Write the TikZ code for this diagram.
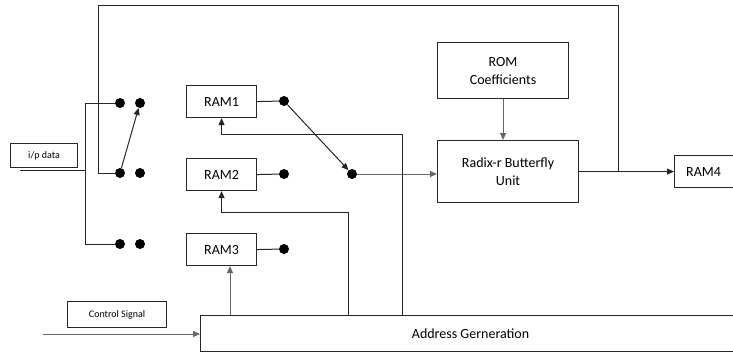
\documentclass[tikz,border=0pt]{standalone}
\usepackage{fontspec}
\setmainfont{Carlito}
\usetikzlibrary{arrows.meta}
\begin{document}
\begin{tikzpicture}[x=1pt,y=-1pt,
  blk/.style={draw=black!85, line width=1.1pt, inner sep=0pt, anchor=north west,
    align=center, font=\fontsize{14}{18}\selectfont},
  small/.style={font=\fontsize{10}{12}\selectfont},
  dot/.style={circle, fill=black, inner sep=0pt, minimum size=10pt},
  wire/.style={draw=black!85, line width=1pt},
  light/.style={draw=black!60},
  arr/.style={wire, -{Triangle[length=7pt,width=6pt]}},
  ]
\useasboundingbox (0,0) rectangle (733,353);
\clip (0,0) rectangle (733,353);

% blocks
\node[blk, small, minimum width=67pt, minimum height=24pt] (ipd) at (10,143) {i/p data};
\node[blk, small, minimum width=99pt, minimum height=26pt] (ctrl) at (67,301) {Control Signal};
\node[blk, minimum width=70pt, minimum height=32pt] (ram1) at (186,85) {RAM1};
\node[blk, minimum width=70pt, minimum height=32pt] (ram2) at (186,158) {RAM2};
\node[blk, minimum width=70pt, minimum height=32pt] (ram3) at (186,233) {RAM3};
\node[blk, minimum width=131pt, minimum height=56pt] (rom) at (437,42) {ROM\\Coefficients};
\node[blk, minimum width=141pt, minimum height=62pt] (bf) at (437,140) {Radix-r Butterfly\\Unit};
\node[blk, minimum width=80pt, minimum height=32pt] (ram4) at (674,155) {RAM4\hspace*{22pt}};
\node[blk, minimum width=560pt, minimum height=36pt] (addr) at (200,315) {Address Gerneration\hspace*{20pt}};

% switch contacts
\node[dot] (s1a) at (120,103) {};
\node[dot] (s1b) at (140,103) {};
\node[dot] (s2a) at (120,173) {};
\node[dot] (s2b) at (140,173) {};
\node[dot] (s3a) at (120,244) {};
\node[dot] (s3b) at (140,244) {};

% RAM output contacts
\node[dot] (r1) at (284,101) {};
\node[dot] (r2) at (284,174) {};
\node[dot] (r3) at (284,249) {};
\node[dot] (m) at (352,174) {};

% input distribution
\coordinate (in0) at (20,170);
\coordinate (v1) at (85,103);
\coordinate (v3) at (85,244);
\draw[wire] (s1a) -- (v1) -- (v3) -- (s3a);
\draw[wire] (in0) -- (in0 -| v1);

% feedback loop from the butterfly output
\coordinate (lp1) at (98,6);
\coordinate (lp2) at (618,6);
\draw[wire] (s2a) -- (s2a -| lp1) -- (lp1) -- (lp2) -- (lp2 |- bf.east);

% switch
\draw[arr] (s2a) -- (s1b);

% RAM outputs
\draw[wire] (ram1.east) -- (r1);
\draw[wire] (ram2.east) -- (r2);
\draw[wire] (ram3.east) -- (r3);
\draw[arr] (r1) -- (m);
\draw[arr, light] (m) -- (m -| bf.west);

% coefficients and output
\draw[arr, light] (rom.south) -- (rom.south |- bf.north);
\draw[arr] (bf.east) -- (ram4.west);

% address lines
\coordinate (a1) at (402,134);
\coordinate (a2) at (348,212);
\coordinate (a3) at (230,0);
\draw[arr] (a1 |- addr.north) -- (a1) -| (ram1.south);
\draw[arr] (a2 |- addr.north) -- (a2) -| (ram2.south);
\draw[arr, light] (a3 |- addr.north) -- (a3 |- ram3.south);

% control signal
\coordinate (c0) at (43,334);
\draw[arr, light] (c0) -- (c0 -| addr.west);
\end{tikzpicture}
\end{document}
